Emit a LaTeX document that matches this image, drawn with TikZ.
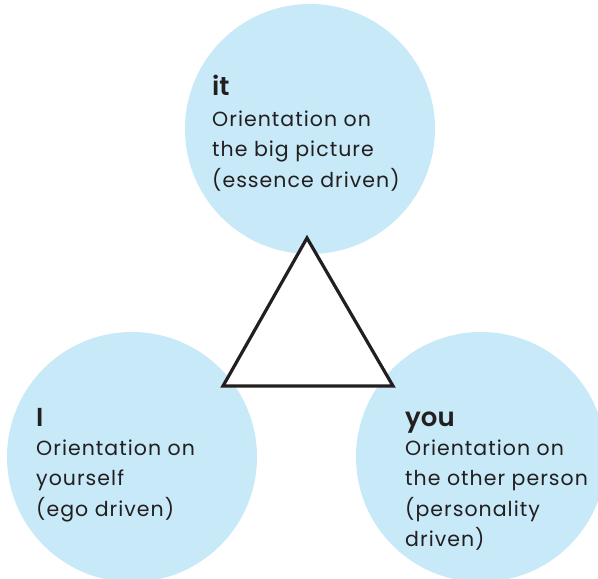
\documentclass[tikz,border=0pt]{standalone}
\usepackage{fontspec}
\setmainfont{Poppins}[BoldFont={Poppins SemiBold}]
\newfontfamily\bodyfont{Poppins}[LetterSpace=5]
\definecolor{circblue}{HTML}{C7E9F8}
\definecolor{ink}{HTML}{231F20}
\tikzset{
  bubble/.style={circle, fill=circblue, minimum size=250pt, inner sep=0pt, draw=none},
  title/.style={anchor=base west, inner sep=0pt, text=ink, font=\fontsize{26}{30}\selectfont\bfseries},
  body/.style={anchor=base west, inner sep=0pt, text=ink, font=\bodyfont\fontsize{20.5}{30}\selectfont},
  tri/.style={draw=ink, fill=white, line width=3.2pt, line join=miter}
}
\begin{document}
\begin{tikzpicture}[x=1pt, y=-1pt]
\useasboundingbox (0,0) rectangle (598,579);
\clip (0,0) rectangle (598,579);
\node[bubble] (cit) at (310,129) {};
\node[bubble] (cI) at (132,457) {};
\node[bubble] (cyou) at (481,457) {};
\coordinate (A) at (307,238);
\coordinate (B) at (223,386);
\coordinate (C) at (393,386);
\draw[tri] (A) -- (B) -- (C) -- cycle;
% top
\node[title] (it0) at (212,95) {it};
\node[body] (it1) at (212,126) {Orientation on};
\node[body] (it2) at (212,156.5) {the big picture};
\node[body] (it3) at (212,187) {(essence driven)};
% left
\node[title] (I0) at (36,426) {I};
\node[body] (I1) at (36,455) {Orientation on};
\node[body] (I2) at (36,485.5) {yourself};
\node[body] (I3) at (36,516) {(ego driven)};
% right
\node[title] (y0) at (405,426) {you};
\node[body] (y1) at (405,455) {Orientation on};
\node[body] (y2) at (405,485.5) {the other person};
\node[body] (y3) at (405,516) {(personality};
\node[body] (y4) at (405,546.5) {driven)};
\end{tikzpicture}
\end{document}
